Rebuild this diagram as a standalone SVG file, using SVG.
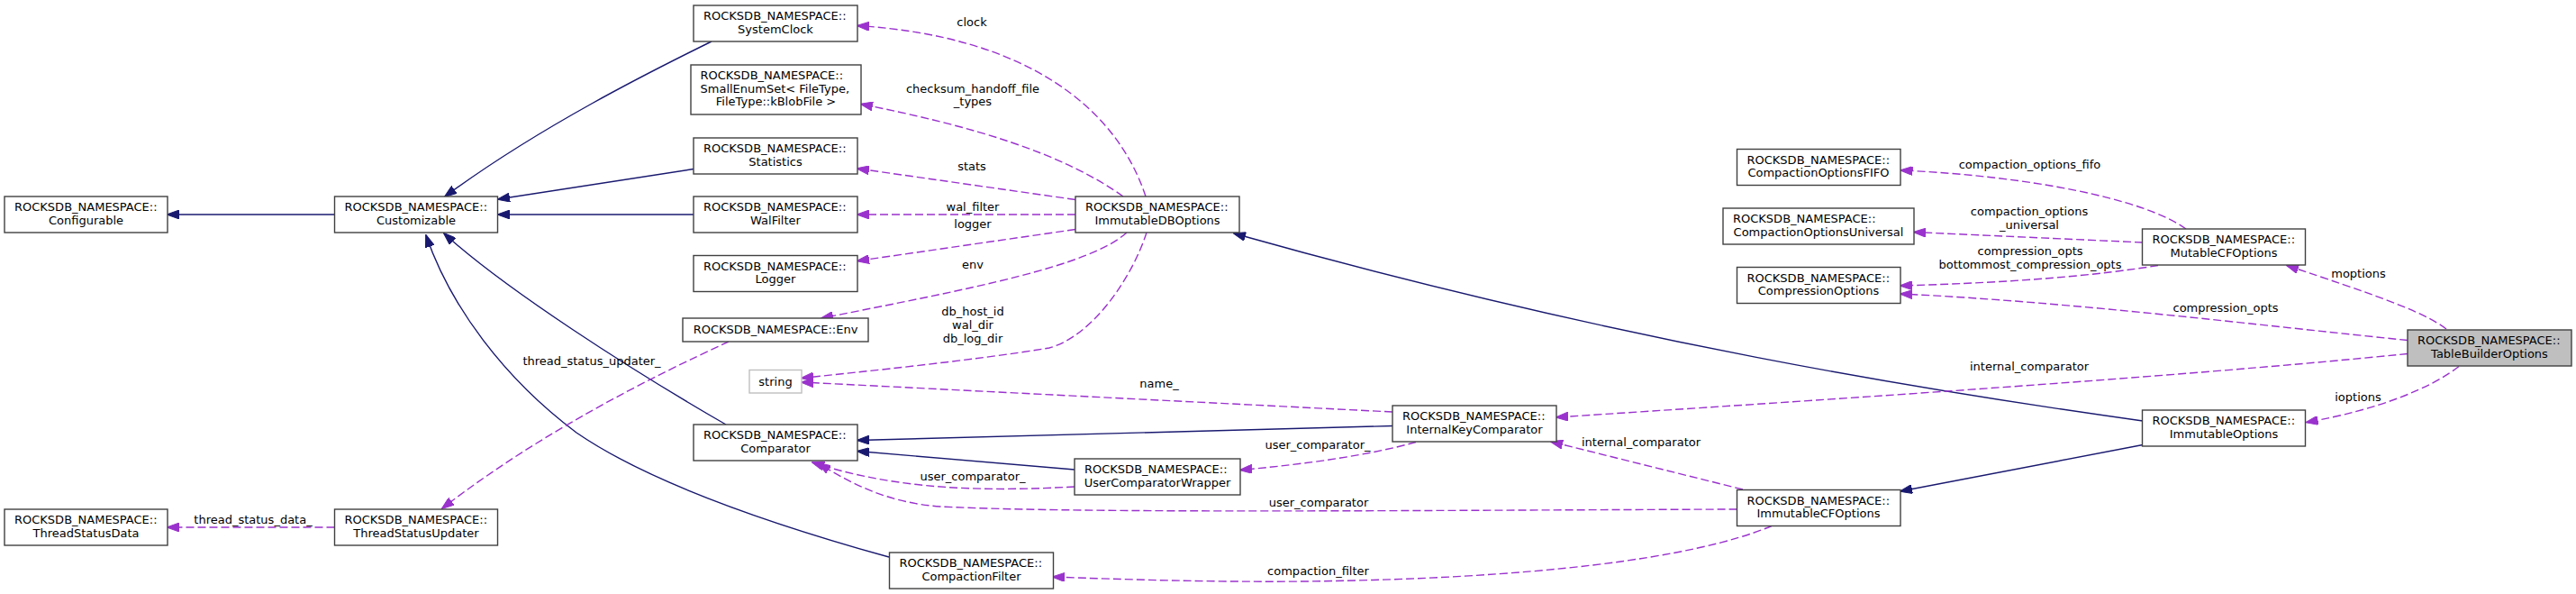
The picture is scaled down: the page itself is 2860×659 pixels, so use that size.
<svg xmlns="http://www.w3.org/2000/svg" width="2860" height="659" viewBox="0 0 2860 659">
<style>
text{font-family:"DejaVu Sans","Liberation Sans",sans-serif;font-size:13px;fill:#000}
.n rect{fill:#fff;stroke:#404040;stroke-width:1.4}
.n rect.g{stroke:#bfbfbf}
.n rect.cur{fill:#bfbfbf}
.m{text-anchor:middle}
.inh path{fill:none;stroke:#191970;stroke-width:1.4;marker-end:url(#an)}
.use path{fill:none;stroke:#9a32cd;stroke-width:1.4;stroke-dasharray:9,4;marker-end:url(#ap)}
</style>
<defs>
<marker id="an" viewBox="0 0 14 10" refX="13" refY="5" markerWidth="14" markerHeight="10" markerUnits="userSpaceOnUse" orient="auto"><path d="M0,0 L14,5 L0,10 z" fill="#191970" stroke="#191970" stroke-width="1"/></marker>
<marker id="ap" viewBox="0 0 14 10" refX="13" refY="5" markerWidth="14" markerHeight="10" markerUnits="userSpaceOnUse" orient="auto"><path d="M0,0 L14,5 L0,10 z" fill="#9a32cd" stroke="#9a32cd" stroke-width="1"/></marker>
</defs>
<rect width="2860" height="659" fill="#fff"/>
<g id="connectors">
<g class="inh">
<path d="M371.5,238 L186,238"/>
<path d="M790,46 C725,78 600,140 494,218"/>
<path d="M770,187.5 L553,221"/>
<path d="M770,238 L553,238"/>
<path d="M806,471 C700,410 560,320 493,259"/>
<path d="M987,618 C850,580 720,535 640,480 C560,420 500,340 473,261"/>
<path d="M2379,467 C2150,435 1800,380 1370,259"/>
<path d="M1546,472.5 L952,488.5"/>
<path d="M1193,521 L952,500.5"/>
<path d="M2379,493.5 L2110,545"/>
</g>
<g class="use">
<path d="M1272,218 C1240,120 1140,40 952,28.5"/>
<path d="M1247,218 C1180,170 1080,140 956,115.5"/>
<path d="M1194,221.5 L952,187"/>
<path d="M1194,238 L952,238"/>
<path d="M1194,254.5 L952,289.5"/>
<path d="M1251,258 C1210,295 1080,320 912,353"/>
<path d="M1273,258 C1258,305 1215,372 1165,386 C1080,400 960,412 890,419.5"/>
<path d="M1546,457 L890,424"/>
<path d="M1193,540 C1100,545 1000,545 902,513"/>
<path d="M1572,490.5 C1520,505 1450,515 1377,521.5"/>
<path d="M1928.5,565 C1600,566 1200,570 1044,562 C990,558 950,540 909,514"/>
<path d="M1935,543 L1722,490"/>
<path d="M1967,583.5 C1880,620 1700,642 1450,645 C1350,646 1250,643 1169,640"/>
<path d="M809,379 C720,420 600,480 491,564"/>
<path d="M371.5,585 L186,585"/>
<path d="M2427,254 C2380,220 2250,195 2110.5,189"/>
<path d="M2379,269 L2125,257.5"/>
<path d="M2396,294.5 C2330,305 2250,313 2110,317"/>
<path d="M2673,377.5 C2500,360 2300,335 2110,326"/>
<path d="M2716,365 C2690,345 2630,325 2539,294.5"/>
<path d="M2673,392.5 C2400,420 2000,445 1728,463"/>
<path d="M2730,406.5 C2700,430 2640,455 2560.5,468.5"/>
</g>
<g class="labels">
<text class="m" x="1079" y="29">clock</text>
<text class="m" x="1080" y="102.5">checksum_handoff_file</text>
<text class="m" x="1080" y="117">_types</text>
<text class="m" x="1079" y="189">stats</text>
<text class="m" x="1080" y="233.5">wal_filter</text>
<text class="m" x="1080" y="253">logger</text>
<text class="m" x="1080" y="298">env</text>
<text class="m" x="1080" y="350">db_host_id</text>
<text class="m" x="1080" y="365">wal_dir</text>
<text class="m" x="1080" y="380">db_log_dir</text>
<text class="m" x="1287" y="430">name_</text>
<text class="m" x="1080" y="533">user_comparator_</text>
<text class="m" x="1463" y="498">user_comparator_</text>
<text class="m" x="1464" y="561.5">user_comparator</text>
<text class="m" x="1822" y="495">internal_comparator</text>
<text class="m" x="1463.5" y="638">compaction_filter</text>
<text class="m" x="657" y="405">thread_status_updater_</text>
<text class="m" x="281" y="580.5">thread_status_data_</text>
<text class="m" x="2253.5" y="186.5">compaction_options_fifo</text>
<text class="m" x="2253" y="239">compaction_options</text>
<text class="m" x="2253" y="253.5">_universal</text>
<text class="m" x="2254" y="282.5">compression_opts</text>
<text class="m" x="2254" y="297.5">bottommost_compression_opts</text>
<text class="m" x="2471" y="345.5">compression_opts</text>
<text class="m" x="2618.5" y="308">moptions</text>
<text class="m" x="2253" y="410.5">internal_comparator</text>
<text class="m" x="2618" y="445">ioptions</text>
</g>
</g>
<g id="Configurable" class="n"><rect x="5" y="218" width="181" height="40"/><text x="16" y="234">ROCKSDB_NAMESPACE::</text><text class="m" x="95.5" y="248.5">Configurable</text></g>
<g id="Customizable" class="n"><rect x="371.5" y="218" width="181" height="40"/><text x="382.5" y="234">ROCKSDB_NAMESPACE::</text><text class="m" x="462" y="248.5">Customizable</text></g>
<g id="SystemClock" class="n"><rect x="770" y="6" width="182" height="40"/><text x="781" y="22">ROCKSDB_NAMESPACE::</text><text class="m" x="861" y="36.5">SystemClock</text></g>
<g id="SmallEnumSet" class="n"><rect x="767" y="72" width="189" height="55"/><text x="777.5" y="88">ROCKSDB_NAMESPACE::</text><text x="777.5" y="102.5">SmallEnumSet&lt; FileType,</text><text class="m" x="861.5" y="117">FileType::kBlobFile &gt;</text></g>
<g id="Statistics" class="n"><rect x="770" y="153" width="182" height="40"/><text x="781" y="169">ROCKSDB_NAMESPACE::</text><text class="m" x="861" y="183.5">Statistics</text></g>
<g id="WalFilter" class="n"><rect x="770" y="218" width="182" height="40"/><text x="781" y="234">ROCKSDB_NAMESPACE::</text><text class="m" x="861" y="248.5">WalFilter</text></g>
<g id="Logger" class="n"><rect x="770" y="283.5" width="182" height="40"/><text x="781" y="299.5">ROCKSDB_NAMESPACE::</text><text class="m" x="861" y="314">Logger</text></g>
<g id="Env" class="n"><rect x="758" y="353" width="206" height="26"/><text class="m" x="861" y="370">ROCKSDB_NAMESPACE::Env</text></g>
<g id="string" class="n"><rect class="g" x="832" y="410.5" width="58" height="25.5"/><text class="m" x="861" y="427.5">string</text></g>
<g id="Comparator" class="n"><rect x="770" y="471" width="182" height="40"/><text x="781" y="487">ROCKSDB_NAMESPACE::</text><text class="m" x="861" y="501.5">Comparator</text></g>
<g id="UserComparatorWrapper" class="n"><rect x="1193" y="509" width="184" height="40"/><text x="1204" y="525">ROCKSDB_NAMESPACE::</text><text class="m" x="1285" y="539.5">UserComparatorWrapper</text></g>
<g id="CompactionFilter" class="n"><rect x="987.5" y="613" width="182" height="40"/><text x="998.5" y="629">ROCKSDB_NAMESPACE::</text><text class="m" x="1078.5" y="643.5">CompactionFilter</text></g>
<g id="ThreadStatusData" class="n"><rect x="5" y="565" width="181" height="40"/><text x="16" y="581">ROCKSDB_NAMESPACE::</text><text class="m" x="95.5" y="595.5">ThreadStatusData</text></g>
<g id="ThreadStatusUpdater" class="n"><rect x="371.5" y="565" width="181" height="40"/><text x="382.5" y="581">ROCKSDB_NAMESPACE::</text><text class="m" x="462" y="595.5">ThreadStatusUpdater</text></g>
<g id="ImmutableDBOptions" class="n"><rect x="1194" y="218" width="182" height="40"/><text x="1205" y="234">ROCKSDB_NAMESPACE::</text><text class="m" x="1285" y="248.5">ImmutableDBOptions</text></g>
<g id="InternalKeyComparator" class="n"><rect x="1546" y="450" width="182" height="40"/><text x="1557" y="466">ROCKSDB_NAMESPACE::</text><text class="m" x="1637" y="480.5">InternalKeyComparator</text></g>
<g id="ImmutableCFOptions" class="n"><rect x="1928.5" y="543.5" width="181.5" height="40"/><text x="1939.5" y="559.5">ROCKSDB_NAMESPACE::</text><text class="m" x="2019" y="574">ImmutableCFOptions</text></g>
<g id="CompactionOptionsFIFO" class="n"><rect x="1928.5" y="165.5" width="181.5" height="40"/><text x="1939.5" y="181.5">ROCKSDB_NAMESPACE::</text><text class="m" x="2019" y="196">CompactionOptionsFIFO</text></g>
<g id="CompactionOptionsUniversal" class="n"><rect x="1913" y="231" width="212" height="40"/><text x="1924" y="247">ROCKSDB_NAMESPACE::</text><text class="m" x="2019" y="261.5">CompactionOptionsUniversal</text></g>
<g id="CompressionOptions" class="n"><rect x="1928.5" y="296.5" width="181.5" height="40"/><text x="1939.5" y="312.5">ROCKSDB_NAMESPACE::</text><text class="m" x="2019" y="327">CompressionOptions</text></g>
<g id="MutableCFOptions" class="n"><rect x="2378.5" y="254" width="181" height="40"/><text x="2389.5" y="270">ROCKSDB_NAMESPACE::</text><text class="m" x="2469" y="284.5">MutableCFOptions</text></g>
<g id="ImmutableOptions" class="n"><rect x="2378.5" y="455" width="181" height="40"/><text x="2389.5" y="471">ROCKSDB_NAMESPACE::</text><text class="m" x="2469" y="485.5">ImmutableOptions</text></g>
<g id="TableBuilderOptions" class="n"><rect class="cur" x="2673" y="366" width="182" height="40"/><text x="2684" y="382">ROCKSDB_NAMESPACE::</text><text class="m" x="2764" y="396.5">TableBuilderOptions</text></g>
</svg>
